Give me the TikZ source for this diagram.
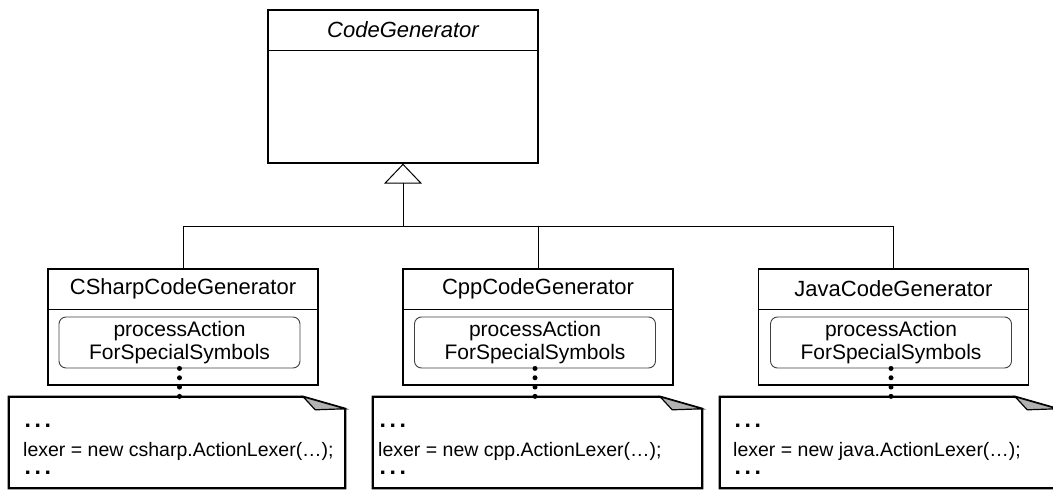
\documentclass[tikz,border=0pt]{standalone}
\usepackage{fontspec}
\setmainfont{Liberation Sans}
\usetikzlibrary{arrows.meta}
\newcommand{\codeellipsis}{{\fontsize{23}{18}\selectfont\bfseries .\hspace{3.6pt}.\hspace{3.6pt}.}}
\begin{document}
\begin{tikzpicture}[x=1pt,y=-1pt,
  classbox/.style={draw, line width=1.3pt, minimum width=270pt, inner sep=0pt},
  classname/.style={font=\fontsize{22}{24}\selectfont},
  methodbox/.style={draw=black!75, line width=0.9pt, rounded corners=7pt,
    minimum width=241pt, minimum height=51pt, inner sep=0pt, align=center,
    font=\fontsize{21}{22.5}\selectfont},
  notebox/.style={inner sep=0pt, minimum height=91pt},
  noteline/.style={line width=2.2pt, line join=miter},
  codetext/.style={anchor=base west, inner sep=0pt, align=left,
    font=\fontsize{19.5}{18}\selectfont},
  dotconn/.style={line width=5pt, line cap=round, dash pattern=on 0pt off 9.3pt},
  inherit/.style={line width=1pt}
]
\useasboundingbox (0,0) rectangle (1053,490);
\clip (0,0) rectangle (1053,490);

% abstract base class
\node[classbox, minimum height=153pt] (cg) at (403,86.5) {};
\node[classname, font=\fontsize{22}{24}\selectfont\itshape] (cgname) at (403,30) {CodeGenerator};
\draw[line width=1pt] (cg.west |- 0,50) -- (cg.east |- 0,50);

% concrete generators
\node[classbox, minimum height=116pt] (c1) at (183,327) {};
\node[classbox, minimum height=116pt] (c2) at (538,327) {};
\node[classbox, minimum height=116pt] (c3) at (893.5,327) {};
\node[classname] (c1name) at (183,289) {CSharpCodeGenerator};
\node[classname] (c2name) at (538,289) {CppCodeGenerator};
\node[classname] (c3name) at (893.5,289) {JavaCodeGenerator};
\foreach \c in {c1,c2,c3}
  \draw[line width=1pt] (\c.west |- 0,309) -- (\c.east |- 0,309);

% overridden operation
\node[methodbox] (m1) at (179.5,342.5) {processAction\\ForSpecialSymbols};
\node[methodbox] (m2) at (535,342.5) {processAction\\ForSpecialSymbols};
\node[methodbox] (m3) at (891,342.5) {processAction\\ForSpecialSymbols};

% generalization
\coordinate (hub) at (403,226);
\draw[inherit, -{Triangle[open, length=20pt, width=38pt, line width=1pt]}] (hub) -- (cg.south);
\draw[inherit] (c1.north) |- (c3.north |- hub) -- (c3.north);
\draw[inherit] (c2.north) -- (c2.north |- hub);

% code notes with a folded top-right corner
\node[notebox, minimum width=336pt] (n1) at (177,442.5) {};
\node[notebox, minimum width=329pt] (n2) at (537.5,442.5) {};
\node[notebox, minimum width=337pt] (n3) at (888.5,442.5) {};
\foreach \n in {n1,n2,n3} {
  \draw[noteline] ([yshift=-12pt]\n.north east) -- (\n.south east) -- (\n.south west)
    -- (\n.north west) -- ([xshift=-42pt]\n.north east) -- cycle;
  \filldraw[fill=black!30, line width=1.2pt, line join=miter]
    ([xshift=-42pt]\n.north east) -- ([xshift=-30pt,yshift=-13pt]\n.north east)
    -- ([yshift=-12pt]\n.north east) -- cycle;
}

\node[codetext] (t1) at (23,474)
  {\hspace{1.5pt}\codeellipsis\\[11pt]lexer = new csharp.ActionLexer(…);\\\hspace{1.5pt}\codeellipsis};
\node[codetext] (t2) at (378,474)
  {\hspace{1.5pt}\codeellipsis\\[11pt]lexer = new cpp.ActionLexer(…);\\\hspace{1.5pt}\codeellipsis};
\node[codetext] (t3) at (733,474)
  {\hspace{1.5pt}\codeellipsis\\[11pt]lexer = new java.ActionLexer(…);\\\hspace{1.5pt}\codeellipsis};

% note attachments
\draw[dotconn] (m1.south) -- (m1.south |- n1.north);
\draw[dotconn] (m2.south) -- (m2.south |- n2.north);
\draw[dotconn] (m3.south) -- (m3.south |- n3.north);
\end{tikzpicture}
\end{document}
